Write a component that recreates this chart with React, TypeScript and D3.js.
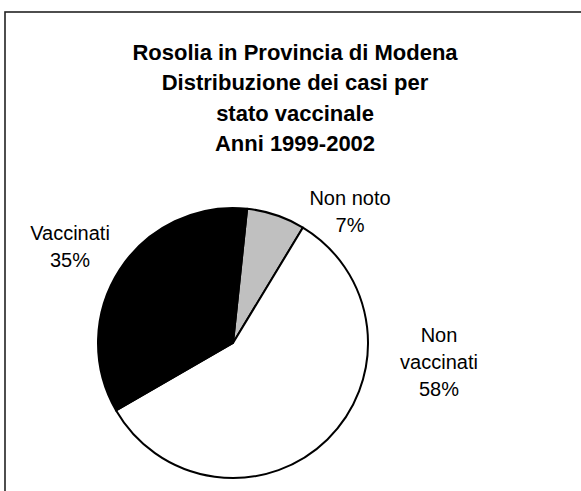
import React from "react";
import * as d3 from "d3";

const titleLines = [
  "Rosolia in Provincia di Modena",
  "Distribuzione dei casi per",
  "stato vaccinale",
  "Anni 1999-2002",
];
const categories = ["Non noto", "Non vaccinati", "Vaccinati"];
const labelLines = [["Non noto", "7%"], ["Non", "vaccinati", "58%"], ["Vaccinati", "35%"]];
const values = [7, 58, 35];
const colors = ["#c0c0c0", "#ffffff", "#000000"];

// label anchor (centre x, first baseline y) – layout only
const labelAnchors = [
  { x: 350, y: 205 },
  { x: 439, y: 342 },
  { x: 70, y: 240 },
];

const W = 581;
const H = 491;
const cx = 233;
const cy = 343;
const R = 135;
const startDeg = 6;

export default function App() {
  const pie = d3
    .pie<number>()
    .sort(null)
    .startAngle((startDeg * Math.PI) / 180)
    .endAngle((startDeg * Math.PI) / 180 + 2 * Math.PI);
  const arcs = pie(values);
  const arc = d3.arc<d3.PieArcDatum<number>>().innerRadius(0).outerRadius(R);
  const font = "Arial, 'Liberation Sans', sans-serif";
  return (
    <svg
      width={W}
      height={H}
      style={{ position: "absolute", left: 0, top: 0, background: "#fff" }}
    >
      <rect x={5} y={12} width={W + 20} height={H + 20} fill="#fff" stroke="#222" strokeWidth={1.6} />
      <g fontFamily={font} fontWeight="bold" fontSize={22} textAnchor="middle" fill="#000">
        {titleLines.map((t, i) => (
          <text key={t} x={295} y={60 + i * 30.3}>
            {t}
          </text>
        ))}
      </g>
      <g transform={`translate(${cx},${cy})`}>
        {arcs.map((a, i) => (
          <path
            key={categories[i]}
            d={arc(a) || ""}
            fill={colors[i]}
            stroke="#000"
            strokeWidth={2}
            strokeLinejoin="round"
          />
        ))}
      </g>
      <g fontFamily={font} fontSize={20} textAnchor="middle" fill="#000">
        {labelLines.map((lines, i) => (
          <text key={categories[i]}>
            {lines.map((l, j) => (
              <tspan key={j} x={labelAnchors[i].x} y={labelAnchors[i].y + j * 27.2}>
                {l}
              </tspan>
            ))}
          </text>
        ))}
      </g>
    </svg>
  );
}
